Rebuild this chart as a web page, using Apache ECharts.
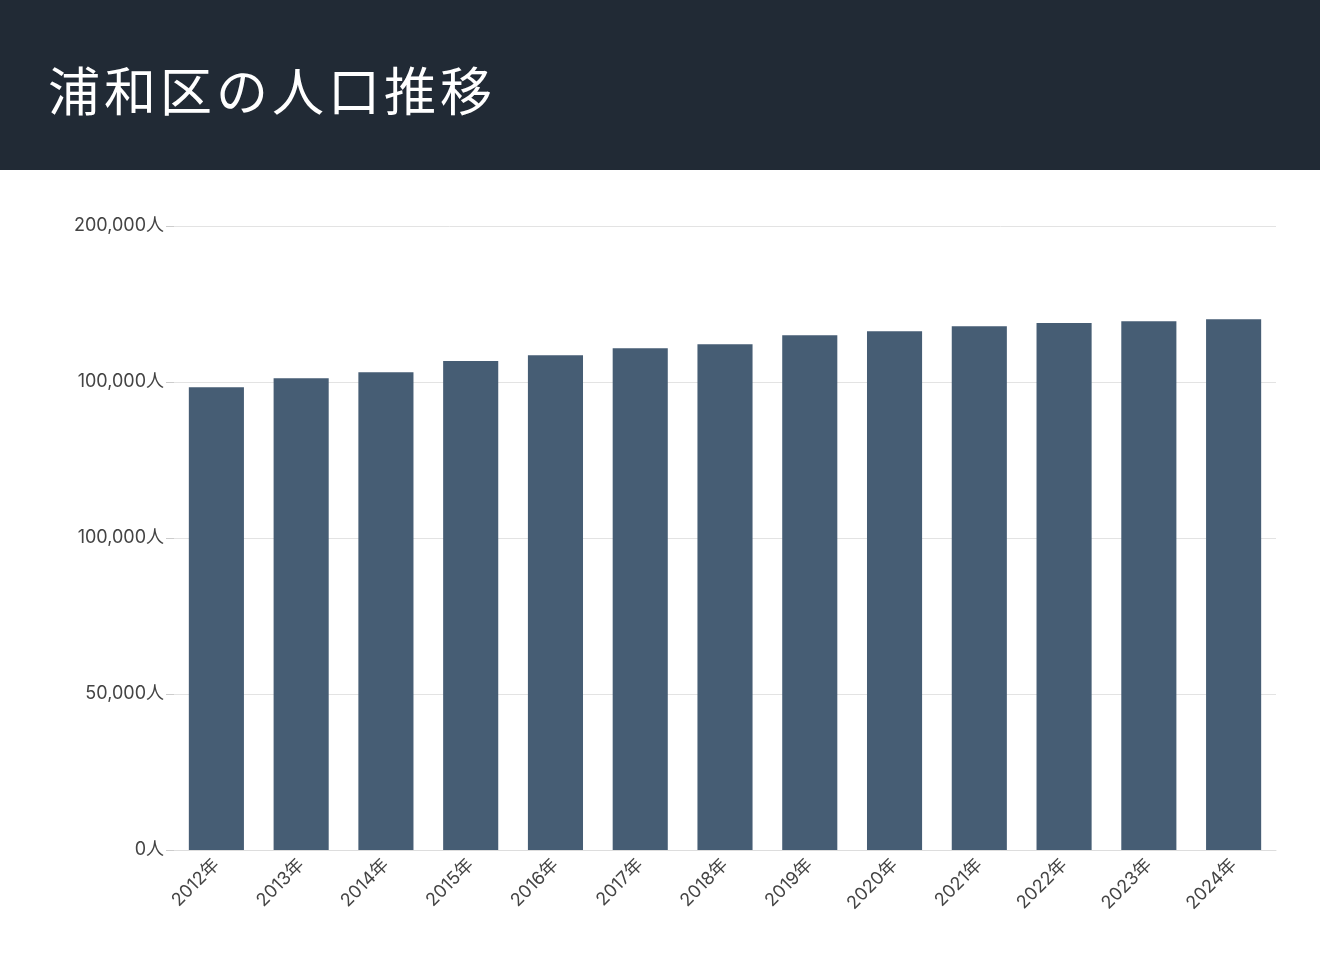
<!DOCTYPE html>
<html lang="ja">
<head>
<meta charset="UTF-8">
<title>浦和区の人口推移</title>
<script src="https://cdn.jsdelivr.net/npm/echarts@6/dist/echarts.min.js"></script>
<style>
  body { margin: 0; background: #fff; font-family: "Noto Sans CJK JP", "Noto Sans", sans-serif; }
  #header { height: 170px; background: #212a35; color: #fff; font-size: 52px; line-height: 178px; padding-left: 48px; letter-spacing: 4px; }
  #chart { width: 1320px; height: 797px; }
</style>
</head>
<body>
<div id="header">浦和区の人口推移</div>
<div id="chart"></div>
<script>
// データ
const years = ['2012年','2013年','2014年','2015年','2016年','2017年','2018年','2019年','2020年','2021年','2022年','2023年','2024年'];
const population = [148300, 151200, 153100, 156700, 158600, 160800, 162100, 165000, 166300, 167900, 168900, 169500, 170100];
// 元の図の目盛ラベル（そのまま）
const yTickLabels = ['0人', '50,000人', '100,000人', '100,000人', '200,000人'];

const chart = echarts.init(document.getElementById('chart'));
chart.setOption({
  animation: false,
  grid: { left: 174, right: 44, top: 56, bottom: 117 },
  xAxis: {
    type: 'category',
    data: years,
    axisTick: { show: false },
    axisLine: { lineStyle: { color: '#ddd' } },
    axisLabel: { rotate: 45, color: '#444', fontSize: 18, margin: 12, fontFamily: 'Inter, "Noto Sans CJK JP"' }
  },
  yAxis: {
    type: 'value',
    min: 0, max: 200000, interval: 50000,
    splitLine: { lineStyle: { color: '#e3e3e3' } },
    axisLine: { show: false },
    axisTick: { show: true, length: 8, lineStyle: { color: '#ccc' } },
    axisLabel: {
      color: '#444', fontSize: 18, margin: 10, fontFamily: 'Inter, "Noto Sans CJK JP"',
      formatter: v => yTickLabels[Math.round(v / 50000)]
    }
  },
  series: [{
    type: 'bar',
    data: population,
    barCategoryGap: '35%',
    itemStyle: { color: '#465d74' }
  }]
});
</script>
</body>
</html>
